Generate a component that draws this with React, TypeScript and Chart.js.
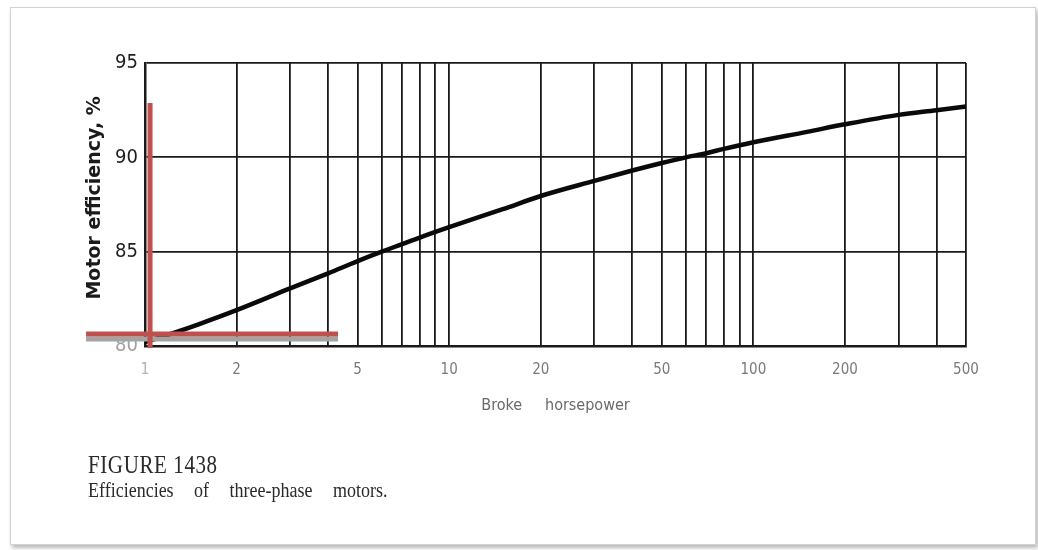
import React, { useEffect, useRef } from "react";
import { Chart, registerables } from "chart.js";

Chart.register(...registerables);

// Curve: brake horsepower vs motor efficiency (%)
const hpValues = [1, 1.3, 1.5, 2, 3, 4, 5, 6, 7, 8, 10, 15, 20, 30, 40, 50, 60, 70, 80, 100, 150, 200, 300, 400, 500];
const efficiencyValues = [80.2, 80.8, 81.15, 81.9, 83.05, 83.85, 84.5, 85.0, 85.4, 85.75, 86.3, 87.25, 87.95, 88.75, 89.3, 89.7, 90.0, 90.22, 90.45, 90.8, 91.35, 91.75, 92.25, 92.5, 92.7];

// Axis ticks
const xGridValues = [1, 2, 3, 4, 5, 6, 7, 8, 9, 10, 20, 30, 40, 50, 60, 70, 80, 90, 100, 200, 300, 400, 500];
const xLabelValues = [1, 2, 5, 10, 20, 50, 100, 200, 500];
const yMin = 80;
const yMax = 95;
const yStep = 5;

// Red marker lines drawn over the figure (in data units)
const markerVertX = [1.039, 1.039];
const markerVertY = [79.9, 92.88];
const markerHorzX = [0.64, 4.31];
const markerHorzY = [80.64, 80.64];
const markerShadowY = [80.37, 80.37];

const texts = {
  yTitle: "  Motor efficiency, %",
  xTitle: "Broke     horsepower",
  figure: "FIGURE 1438",
  caption: "Efficiencies of three-phase motors.",
};

const narrow = '"Liberation Sans Narrow", "DejaVu Sans Condensed", sans-serif';

export default function App() {
  const canvasRef = useRef<HTMLCanvasElement | null>(null);

  useEffect(() => {
    document.body.style.margin = "0";
    const canvas = canvasRef.current;
    if (!canvas) return;
    const pts = (xs: number[], ys: number[]) => xs.map((x, i) => ({ x, y: ys[i] }));
    const chart = new Chart(canvas, {
      type: "line",
      data: {
        datasets: [
          {
            label: "marker vertical",
            data: pts(markerVertX, markerVertY),
            borderColor: "#c0504d",
            borderWidth: 5,
            pointRadius: 0,
            clip: false as any,
            borderCapStyle: "butt",
          },
          {
            label: "marker horizontal",
            data: pts(markerHorzX, markerHorzY),
            borderColor: "#c0504d",
            borderWidth: 5,
            pointRadius: 0,
            clip: false as any,
            borderCapStyle: "butt",
          },
          {
            label: "marker shadow",
            data: pts(markerHorzX, markerShadowY),
            borderColor: "#a3a3a3",
            borderWidth: 5,
            pointRadius: 0,
            clip: false as any,
          },
          {
            label: "Motor efficiency",
            data: pts(hpValues, efficiencyValues),
            borderColor: "#0a0a0a",
            borderWidth: 4.5,
            pointRadius: 0,
            cubicInterpolationMode: "monotone",
            clip: false as any,
          },
        ],
      },
      options: {
        animation: false,
        responsive: false,
        maintainAspectRatio: false,
        layout: { padding: { left: 0, top: 63, right: 72, bottom: 129 } },
        plugins: { legend: { display: false }, tooltip: { enabled: false } },
        scales: {
          x: {
            type: "logarithmic",
            min: 1,
            max: 500,
            afterBuildTicks: (scale: any) => {
              scale.ticks = xGridValues.map((v) => ({ value: v }));
            },
            afterFit: (scale: any) => {
              scale.height = 75;
            },
            grid: { color: "#1a1a1a", lineWidth: 1.8, drawTicks: false },
            border: { display: true, color: "#1a1a1a", width: 2.5 },
            ticks: {
              autoSkip: false,
              maxRotation: 0,
              padding: 15,
              font: { family: narrow, size: 15 },
              color: (ctx: any) => (ctx.tick && ctx.tick.value === 1 ? "#b0b0b0" : "#7a7a7a"),
              callback: (value: any) => (xLabelValues.includes(Number(value)) ? String(value) : ""),
            },
            title: {
              display: true,
              text: texts.xTitle,
              color: "#6a6a6a",
              font: { family: narrow, size: 16 },
              padding: { top: 0, bottom: 6 },
            },
          },
          y: {
            type: "linear",
            min: yMin,
            max: yMax,
            afterFit: (scale: any) => {
              scale.width = 145;
            },
            grid: { color: "#1a1a1a", lineWidth: 1.8, drawTicks: false },
            border: { display: true, color: "#1a1a1a", width: 2.5 },
            ticks: {
              stepSize: yStep,
              padding: 7,
              font: { family: narrow, size: 20 },
              color: (ctx: any) => (ctx.tick && ctx.tick.value === 80 ? "#a0a0a0" : "#1e1e1e"),
            },
            title: {
              display: true,
              text: texts.yTitle,
              color: "#1a1a1a",
              font: { family: '"DejaVu Sans", sans-serif', size: 19, weight: "bold" },
              padding: { top: 84, bottom: 0 },
            },
          },
        },
      },
    });
    return () => chart.destroy();
  }, []);

  const serif = '"Liberation Serif", "Times New Roman", serif';

  return (
    <div style={{ position: "absolute", left: 0, top: 0, width: 1038, height: 550, background: "#ffffff", overflow: "hidden" }}>
      <div
        style={{
          position: "absolute",
          left: 10,
          top: 7,
          width: 1024,
          height: 536,
          border: "1px solid #d2d2d2",
          boxShadow: "2px 3px 4px rgba(0,0,0,0.28)",
          background: "#ffffff",
        }}
      />
      <canvas
        ref={canvasRef}
        width={1038}
        height={550}
        style={{ position: "absolute", left: 0, top: 0, width: 1038, height: 550 }}
      />
      <div
        style={{
          position: "absolute",
          left: 88,
          top: 453,
          fontFamily: serif,
          fontSize: 21,
          lineHeight: "21px",
          color: "#2a2a2a",
          letterSpacing: 0.6,
          transform: "scaleY(1.2)",
          transformOrigin: "left top",
          whiteSpace: "nowrap",
        }}
      >
        {texts.figure}
      </div>
      <div
        style={{
          position: "absolute",
          left: 88,
          top: 479,
          fontFamily: serif,
          fontSize: 18,
          lineHeight: "18px",
          color: "#2a2a2a",
          wordSpacing: 16,
          transform: "scaleY(1.2)",
          transformOrigin: "left top",
          whiteSpace: "nowrap",
        }}
      >
        {texts.caption}
      </div>
    </div>
  );
}
